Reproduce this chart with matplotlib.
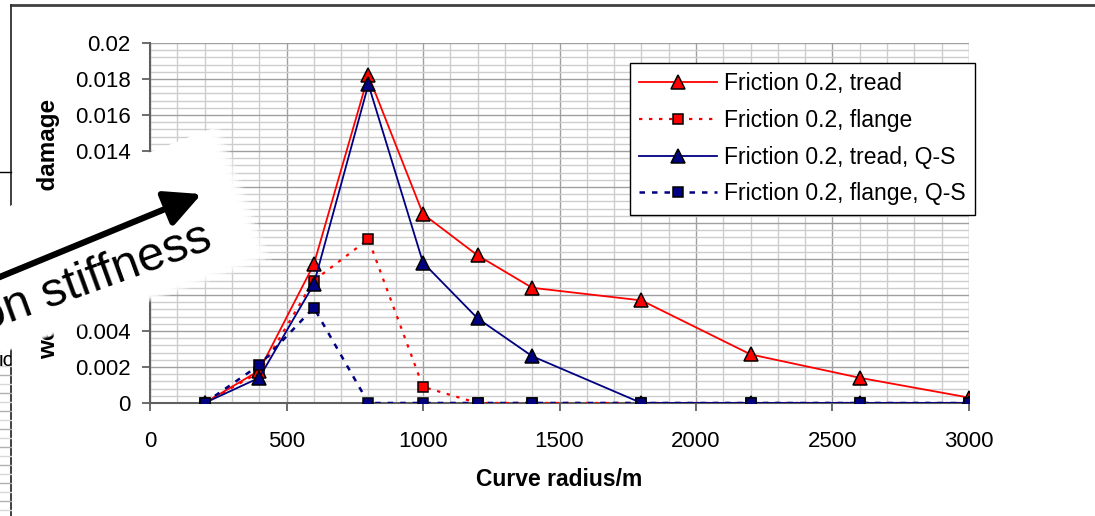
import matplotlib.pyplot as plt
from matplotlib.patches import Polygon, FancyArrowPatch
from matplotlib.lines import Line2D
from matplotlib.ticker import MultipleLocator
from matplotlib.transforms import Bbox, TransformedBbox
import numpy as np

plt.rcParams['font.family'] = ['Liberation Sans', 'DejaVu Sans']

# data
radius = [200, 400, 600, 800, 1000, 1200, 1400, 1800, 2200, 2600, 3000]
tread = [0, 0.0018, 0.0077, 0.0182, 0.0105, 0.0082, 0.0064, 0.0057, 0.0027, 0.0014, 0.0003]
flange = [0, 0.0017, 0.0068, 0.0091, 0.0009, 0, 0, 0, 0, 0, 0]
tread_qs = [0, 0.0014, 0.0066, 0.0177, 0.0078, 0.0047, 0.0026, 0, 0, 0, 0]
flange_qs = [0, 0.0021, 0.0053, 0, 0, 0, 0, 0, 0, 0, 0]
labels = ['Friction 0.2, tread', 'Friction 0.2, flange',
          'Friction 0.2, tread, Q-S', 'Friction 0.2, flange, Q-S']
xticks = [0, 500, 1000, 1500, 2000, 2500, 3000]
yticks = [0, 0.002, 0.004, 0.006, 0.008, 0.01, 0.012, 0.014, 0.016, 0.018, 0.02]
ytick_labels = ['0', '0.002', '0.004', '0.006', '0.008', '0.01', '0.012',
                '0.014', '0.016', '0.018', '0.02']

W, H = 1095, 516
fig = plt.figure(figsize=(W / 100, H / 100), dpi=100)


def px(x, y):
    # image pixel (y down) -> figure fraction
    return (x / W, 1 - y / H)


ax = fig.add_axes([150 / W, 1 - 403 / H, 819 / W, 360 / H])

red = '#ff0000'
navy = '#000080'
ax.plot(radius, tread, color=red, lw=1.3, marker='^', ms=9.5, mfc=red, mec='black', mew=1.1,
        label=labels[0], zorder=4)
ax.plot(radius, flange, color=red, lw=1.6, ls=(0, (1.5, 3)), marker='s', ms=7, mfc=red,
        mec='black', mew=1.1, label=labels[1], zorder=3)
ax.plot(radius, tread_qs, color=navy, lw=1.3, marker='^', ms=9.5, mfc=navy, mec='black',
        mew=1.1, label=labels[2], zorder=5)
ax.plot(radius, flange_qs, color=navy, lw=1.8, ls=(0, (2.2, 2.8)), marker='s', ms=7, mfc=navy,
        mec='black', mew=1.1, label=labels[3], zorder=6)

ax.set_xlim(0, 3000)
ax.set_ylim(0, 0.02)
ax.set_xticks(xticks)
ax.set_yticks(yticks)
ax.set_yticklabels(ytick_labels)
ax.xaxis.set_minor_locator(MultipleLocator(100))
ax.yaxis.set_minor_locator(MultipleLocator(0.0004))
ax.grid(True, which='major', color='#a0a0a0', lw=1.0)
ax.grid(True, which='minor', color='#cdcdcd', lw=1.0)
ax.set_axisbelow(True)
for s in ['top', 'right']:
    ax.spines[s].set_visible(False)
for s in ['left', 'bottom']:
    ax.spines[s].set_color('#606060')
    ax.spines[s].set_linewidth(1.5)
ax.tick_params(which='major', direction='out', length=6, width=1.3, color='#606060',
               labelsize=16, pad=8)
ax.tick_params(axis='x', which='major', pad=14)
ax.tick_params(which='minor', length=0)
ax.set_xlabel('Curve radius/m', fontsize=16.5, fontweight='bold', labelpad=12)

leg = ax.legend(loc='upper right', bbox_to_anchor=px(975, 63), bbox_transform=fig.transFigure,
                fontsize=16.5, frameon=True, fancybox=False, framealpha=1, edgecolor='black',
                borderaxespad=0, handlelength=3.4, handletextpad=0.3, labelspacing=0.6,
                borderpad=0.4)
leg.get_frame().set_linewidth(1.0)
leg.set_zorder(10)

# y label, mostly hidden under the pasted white shape
fig.text(*px(49, 229), 'wear and RCF damage', rotation=90, ha='center', va='center',
         fontsize=17.5, fontweight='bold', zorder=2)

# outer frame of the page
fig.add_artist(Line2D([11 / W, 1], [1 - 5 / H, 1 - 5 / H], transform=fig.transFigure,
                      color='#404040', lw=2, zorder=1))
fig.add_artist(Line2D([11 / W, 11 / W], [1 - 5 / H, 0], transform=fig.transFigure,
                      color='#303030', lw=1.3, zorder=1))
fig.add_artist(Line2D([0, 11 / W], [1 - 172 / H, 1 - 172 / H], transform=fig.transFigure,
                      color='black', lw=1, zorder=1))
strip = TransformedBbox(Bbox([[0, 0], [11 / W, 1]]), fig.transFigure)
ic = fig.text(*px(-1, 360), 'ic', ha='left', va='center', fontsize=15, zorder=1)
ic.set_clip_box(strip)
ic.set_clip_on(True)
for i, yy in enumerate(range(366, 516, 9)):
    fig.add_artist(Line2D([0, 10.5 / W], [1 - yy / H, 1 - yy / H], transform=fig.transFigure,
                          color='#b0b0b0' if i % 2 else '#d8d8d8', lw=1, zorder=1))

# white pasted shape with soft right edge
corners = np.array([(-60, 233), (208, 130), (256, 254), (-60, 375)], dtype=float)
for k, a in [(4, 0.3), (3, 0.45), (2, 0.6), (1, 0.8)]:
    pts = corners.copy()
    pts[1] += (3 * k, -1 * k)
    pts[2] += (4 * k, 1.5 * k)
    fig.add_artist(Polygon([px(*p) for p in pts], closed=True, transform=fig.transFigure,
                           fc='white', ec='none', alpha=a, zorder=8))
fig.add_artist(Polygon([px(*p) for p in corners], closed=True, transform=fig.transFigure,
                       fc='white', ec='none', zorder=8))

fig.add_artist(FancyArrowPatch(px(-10, 281), px(204, 193), transform=fig.transFigure,
                               arrowstyle='-|>,head_length=1.0,head_width=0.5',
                               mutation_scale=22, lw=4.5, color='black', zorder=9))
fig.text(*px(214, 248), 'on stiffness', rotation=20, rotation_mode='anchor', ha='right',
         va='baseline', fontsize=35, zorder=9)

fig.savefig('out.png', dpi=100)
